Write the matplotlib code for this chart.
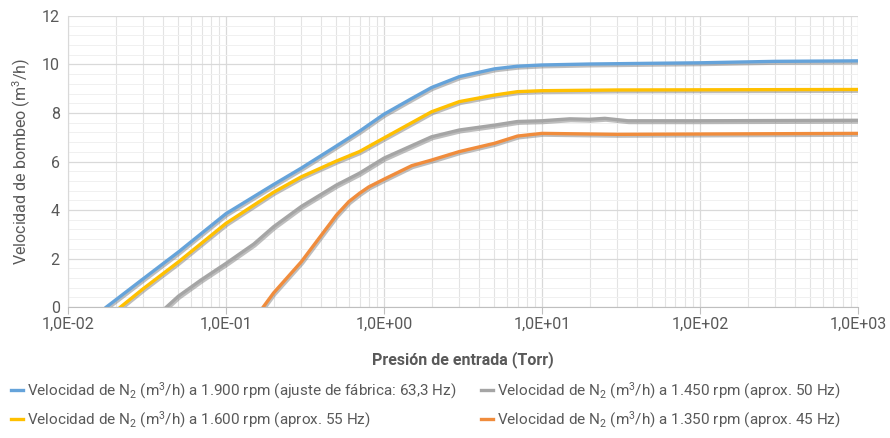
import matplotlib
matplotlib.use("Agg")
import matplotlib.pyplot as plt
import matplotlib.patheffects as pe
from matplotlib.ticker import FuncFormatter, MultipleLocator, LogLocator, NullFormatter

FONT = ["Liberation Sans Narrow", "Roboto", "DejaVu Sans"]

# Presión de entrada (Torr) / Velocidad de bombeo (m3/h)
p_1900 = [0.0175, 0.03, 0.05, 0.1, 0.2, 0.3, 0.5, 0.7, 1.0, 1.5, 2, 3, 5, 7, 10, 20, 50, 100, 300, 1000]
v_1900 = [0.0, 1.17, 2.27, 3.85, 5.05, 5.73, 6.64, 7.25, 7.95, 8.6, 9.05, 9.5, 9.82, 9.93, 9.98, 10.02, 10.05, 10.07, 10.13, 10.15]

p_1600 = [0.0215, 0.03, 0.05, 0.1, 0.15, 0.2, 0.3, 0.5, 0.7, 1.0, 2, 3, 5, 7, 10, 30, 1000]
v_1600 = [0.0, 0.76, 1.86, 3.45, 4.2, 4.73, 5.37, 6.02, 6.41, 6.97, 8.05, 8.47, 8.74, 8.88, 8.92, 8.95, 8.97]

p_1450 = [0.042, 0.05, 0.07, 0.1, 0.15, 0.2, 0.3, 0.5, 0.7, 1.0, 2, 3, 5, 7, 10, 15, 20, 25, 35, 100, 1000]
v_1450 = [0.0, 0.45, 1.13, 1.8, 2.6, 3.31, 4.15, 5.03, 5.52, 6.14, 7.02, 7.3, 7.5, 7.65, 7.68, 7.76, 7.74, 7.78, 7.68, 7.68, 7.7]

p_1350 = [0.172, 0.2, 0.3, 0.5, 0.6, 0.7, 0.8, 1.0, 1.5, 2, 3, 5, 7, 10, 30, 1000]
v_1350 = [0.0, 0.58, 1.87, 3.79, 4.35, 4.69, 4.95, 5.27, 5.83, 6.06, 6.41, 6.75, 7.05, 7.16, 7.12, 7.16]

series = [
    (p_1900, v_1900, "#65A3DA", "Velocidad de N$_2$ (m$^3$/h) a 1.900 rpm (ajuste de fábrica: 63,3 Hz)"),
    (p_1600, v_1600, "#FFC000", "Velocidad de N$_2$ (m$^3$/h) a 1.600 rpm (aprox. 55 Hz)"),
    (p_1450, v_1450, "#A5A5A5", "Velocidad de N$_2$ (m$^3$/h) a 1.450 rpm (aprox. 50 Hz)"),
    (p_1350, v_1350, "#F08C3C", "Velocidad de N$_2$ (m$^3$/h) a 1.350 rpm (aprox. 45 Hz)"),
]

plt.rcParams.update({
    "font.family": FONT,
    "mathtext.fontset": "custom",
    "mathtext.rm": "Roboto",
    "mathtext.it": "Roboto",
    "mathtext.default": "rm",
})

fig = plt.figure(figsize=(8.9, 4.38), dpi=100)
ax = fig.add_axes([0.0764, 0.299, 0.8876, 0.6645])

shadow = [pe.SimpleLineShadow(offset=(0.8, -1.3), shadow_color="#7f7f7f", alpha=0.5), pe.Normal()]
for x, y, color, label in series:
    ax.plot(x, y, color=color, linewidth=2.4, label=label, path_effects=shadow, solid_joinstyle="round")

ax.set_xscale("log")
ax.set_xlim(1e-2, 1e3)
ax.set_ylim(0, 12)

ax.xaxis.set_major_locator(LogLocator(base=10, numticks=10))
ax.xaxis.set_minor_locator(LogLocator(base=10, subs=range(2, 10), numticks=20))
ax.xaxis.set_minor_formatter(NullFormatter())
ax.xaxis.set_major_formatter(FuncFormatter(lambda v, pos: f"{v:.1E}".replace(".", ",")))
ax.yaxis.set_major_locator(MultipleLocator(2))
ax.yaxis.set_minor_locator(MultipleLocator(0.4))

ax.grid(which="major", color="#d9d9d9", linewidth=0.9)
ax.grid(which="minor", axis="x", color="#e3e3e3", linewidth=0.8)
ax.grid(which="minor", axis="y", color="#f0f0f0", linewidth=0.7)
ax.set_axisbelow(True)

for side in ("top", "right"):
    ax.spines[side].set_visible(False)
ax.spines["left"].set_color("#d9d9d9")
ax.spines["bottom"].set_color("#bfbfbf")

ax.tick_params(axis="y", which="both", length=0, labelsize=11.5, labelcolor="#595959", pad=6)
ax.tick_params(axis="x", which="major", length=5, color="#bfbfbf", labelsize=11.5, labelcolor="#595959", pad=2)
ax.tick_params(axis="x", which="minor", length=0)

ax.set_xlabel("Presión de entrada (Torr)", fontsize=11.5, fontweight="bold", color="#595959", labelpad=14)
ax.set_ylabel("Velocidad de bombeo (m$^3$/h)", fontsize=11.5, color="#595959", labelpad=6)

handles, labels = ax.get_legend_handles_labels()
leg = fig.legend(
    handles, labels, ncol=2, loc="upper left", bbox_to_anchor=(0.005, 0.145),
    frameon=False, fontsize=11, labelcolor="#595959", handlelength=0.8,
    handletextpad=0.25, columnspacing=1.6, labelspacing=0.55, borderaxespad=0,
)
for line in leg.get_lines():
    line.set_linewidth(2.4)
    line.set_path_effects([])

fig.savefig("out.png", dpi=100)
